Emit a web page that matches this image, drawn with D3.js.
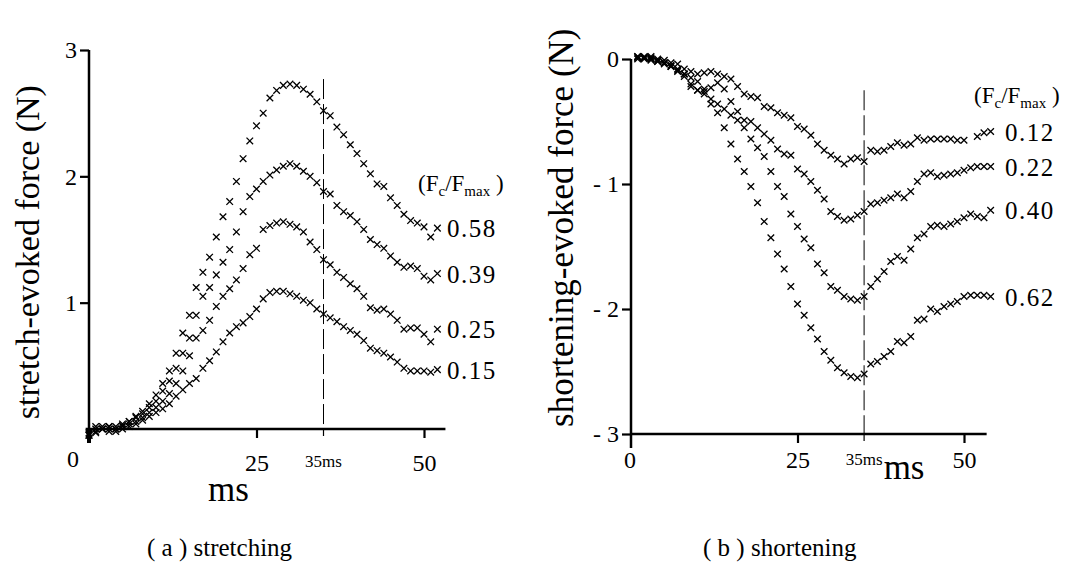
<!DOCTYPE html>
<html>
<head>
<meta charset="utf-8">
<script src="https://cdn.jsdelivr.net/npm/d3@7"></script>
<style>
body { margin: 0; background: #fff; }
text { font-family: "Liberation Serif", "Times New Roman", serif; fill: #000; }
</style>
</head>
<body>
<script>

// (a) stretching : time in ms and force in N
var msA = [0,1,2,3,4,5,6,7,8,9,10,11,12,13,14,15,16,17,18,19,20,21,22,23,24,25,26,
  27,28,29,30,31,32,33,34,35,36,37,38,39,40,41,42,43,44,45,46,47,48,49,50,51,52]

var stretch058 = [-0.05,-0.02,0.00,0.02,0.00,0.03,0.06,0.10,0.14,0.20,0.27,0.36,0.46,0.60,0.76,0.90,
  1.12,1.24,1.36,1.52,1.68,1.80,1.96,2.14,2.28,2.40,2.50,2.62,2.68,2.72,2.73,2.72,2.69,2.65,2.59,
  2.52,2.48,2.39,2.33,2.25,2.18,2.10,2.02,1.94,1.92,1.83,1.77,1.70,1.65,1.63,1.60,1.52,1.59]
var stretch039 = [-0.04,0.00,0.02,0.00,0.02,0.04,0.06,0.09,0.12,0.17,0.22,0.30,0.38,0.48,0.60,0.72,
  0.90,1.05,1.12,1.22,1.32,1.42,1.56,1.72,1.84,1.90,1.96,2.01,2.05,2.08,2.10,2.08,2.04,2.00,1.95,
  1.88,1.86,1.77,1.72,1.69,1.64,1.58,1.50,1.46,1.43,1.37,1.32,1.28,1.29,1.27,1.21,1.18,1.23]
var stretch025 = [-0.03,0.02,0.00,-0.02,0.00,0.02,0.04,0.06,0.09,0.13,0.17,0.22,0.28,0.36,0.46,0.58,
  0.72,0.78,0.86,0.97,1.05,1.11,1.18,1.27,1.38,1.43,1.58,1.61,1.63,1.64,1.62,1.60,1.56,1.48,1.42,
  1.34,1.30,1.24,1.20,1.15,1.11,1.05,0.96,0.94,0.95,0.91,0.86,0.79,0.80,0.80,0.75,0.69,0.79]
var stretch015 = [-0.05,-0.03,0.00,0.02,-0.02,0.00,0.02,0.04,0.07,0.10,0.13,0.16,0.20,0.26,0.31,0.36,
  0.40,0.48,0.54,0.61,0.69,0.76,0.81,0.84,0.89,0.95,1.03,1.08,1.09,1.09,1.07,1.05,1.02,1.00,0.95,
  0.91,0.88,0.85,0.81,0.78,0.75,0.70,0.64,0.62,0.60,0.57,0.53,0.48,0.46,0.46,0.46,0.45,0.47]
var labelsA = ["0.58", "0.39", "0.25", "0.15"]

// (b) shortening
var msB = [1,2,3,4,5,6,7,8,9,10,11,12,13,14,15,16,17,18,19,20,21,22,23,24,25,26,27,
  28,29,30,31,32,33,34,35,36,37,38,39,40,41,42,43,44,45,46,47,48,49,50,51,52,53,54]

var short012 = [0.02,0.01,0.02,0.00,-0.01,-0.03,-0.04,-0.08,-0.10,-0.12,-0.11,-0.10,-0.12,-0.14,
  -0.16,-0.22,-0.28,-0.30,-0.31,-0.38,-0.39,-0.43,-0.45,-0.47,-0.54,-0.56,-0.61,-0.68,-0.73,-0.77,
  -0.80,-0.84,-0.80,-0.79,-0.82,-0.73,-0.74,-0.73,-0.70,-0.67,-0.69,-0.68,-0.63,-0.65,-0.64,-0.64,
  -0.64,-0.64,-0.65,-0.65,null,-0.62,-0.59,-0.58]
var short022 = [0.02,0.00,0.01,-0.01,-0.03,-0.05,-0.08,-0.14,-0.22,-0.25,-0.26,-0.23,-0.19,-0.24,
  -0.34,-0.42,-0.49,-0.50,-0.55,-0.60,-0.65,-0.72,-0.76,-0.77,-0.88,-0.92,-0.98,-1.05,-1.12,-1.22,
  -1.26,-1.29,-1.28,-1.25,-1.22,-1.16,-1.15,-1.13,-1.11,-1.08,-1.11,-1.06,-0.98,-0.92,-0.91,-0.94,
  -0.93,-0.92,-0.91,-0.89,-0.87,-0.86,-0.86,-0.86]
var short040 = [0.01,0.02,0.00,-0.02,-0.03,-0.06,-0.10,-0.12,-0.15,-0.18,-0.24,-0.32,-0.36,-0.40,
  -0.45,-0.49,-0.55,-0.64,-0.71,-0.78,-0.90,-1.02,-1.10,-1.24,-1.34,-1.44,-1.51,-1.64,-1.71,-1.82,
  -1.85,-1.90,-1.92,-1.93,-1.90,-1.82,-1.76,-1.70,-1.62,-1.58,-1.61,-1.52,-1.43,-1.40,-1.34,-1.33,
  -1.34,-1.32,-1.30,-1.27,-1.24,-1.26,-1.27,-1.21]
var short062 = [0.00,0.01,-0.01,-0.02,-0.04,-0.06,-0.09,-0.12,-0.20,-0.25,-0.28,-0.36,-0.43,-0.55,
  -0.68,-0.80,-0.90,-1.02,-1.15,-1.30,-1.43,-1.56,-1.68,-1.82,-1.96,-2.05,-2.15,-2.24,-2.34,-2.41,
  -2.47,-2.51,-2.54,-2.55,-2.52,-2.44,-2.42,-2.38,-2.34,-2.26,-2.27,-2.22,-2.09,-2.08,-2.00,-2.02,
  -1.98,-1.96,-1.94,-1.90,-1.89,-1.89,-1.89,-1.90]
var labelsB = ["0.12", "0.22", "0.40", "0.62"]

var svg = d3.select("body").append("svg")
  .attr('width', 1083)
  .attr('height', 570)
  .style('background', '#fff')

var cross = "M-3.3,-3.3L3.3,3.3M-3.3,3.3L3.3,-3.3"

function drawPoints(g, ms, values, x, y) {
  var pts = ms.map(function(t, i) { return [t, values[i]] })
    .filter(function(d) { return d[1] !== null })
  g.append('g').selectAll('path')
    .data(pts)
    .enter().append('path')
    .attr('d', cross)
    .attr('transform', function(d) { return 'translate(' + x(d[0]) + ',' + y(d[1]) + ')' })
    .attr('stroke', '#000')
    .attr('stroke-width', 1.3)
    .attr('fill', 'none')
}

function styleAxis(g) {
  g.selectAll('.tick line').attr('stroke', '#000').attr('stroke-width', 2.2)
  g.selectAll('.tick text').style('font-family', '"Liberation Serif", serif').style('font-size', '24px')
  g.select('.domain').remove()
}

function legendTitle(g, x, y) {
  var t = g.append('text').attr('x', x).attr('y', y).style('font-size', '23px')
  t.append('tspan').text('(F')
  t.append('tspan').text('c').attr('dy', 5).style('font-size', '15px')
  t.append('tspan').text('/F').attr('dy', -5)
  t.append('tspan').text('max').attr('dy', 5).style('font-size', '15px')
  t.append('tspan').text(' )').attr('dy', -5)
}

// ---------- panel (a) ----------
var xA = d3.scaleLinear().domain([0, 50]).range([89, 424])
var yA = d3.scaleLinear().domain([0, 3]).range([429, 50])
var gA = svg.append('g')

gA.append('line')
  .attr('x1', xA(35)).attr('x2', xA(35))
  .attr('y1', yA(2.77)).attr('y2', yA(0))
  .attr('stroke', '#000').attr('stroke-width', 1)
  .attr('stroke-dasharray', '20,5')

gA.append('g')
  .attr('transform', 'translate(' + xA(0) + ',0)')
  .call(d3.axisLeft(yA).tickValues([1, 2, 3]).tickSize(9).tickPadding(3).tickFormat(d3.format('d')))
  .call(styleAxis)
gA.append('line')
  .attr('x1', xA(0)).attr('x2', xA(0)).attr('y1', yA(3)).attr('y2', yA(0) + 14)
  .attr('stroke', '#000').attr('stroke-width', 2.5)
gA.append('line')
  .attr('x1', xA(0)).attr('x2', xA(0)).attr('y1', yA(0)).attr('y2', yA(0) + 14)
  .attr('stroke', '#000').attr('stroke-width', 4)

gA.append('g')
  .attr('transform', 'translate(0,' + yA(0) + ')')
  .call(d3.axisBottom(xA).tickValues([25, 50]).tickSize(9).tickPadding(16))
  .call(styleAxis)
gA.append('line')
  .attr('x1', xA(-0.5)).attr('x2', xA(53.2)).attr('y1', yA(0)).attr('y2', yA(0))
  .attr('stroke', '#000').attr('stroke-width', 2.5)
gA.append('line')
  .attr('x1', xA(35)).attr('x2', xA(35)).attr('y1', yA(0)).attr('y2', yA(0) + 7)
  .attr('stroke', '#000').attr('stroke-width', 1.2)
gA.append('text').attr('x', xA(35)).attr('y', yA(0) + 38)
  .attr('text-anchor', 'middle').style('font-size', '17px').text('35ms')
gA.append('text').attr('x', xA(0) - 16).attr('y', yA(0) + 38)
  .attr('text-anchor', 'middle').style('font-size', '24px').text('0')

var seriesA = [stretch058, stretch039, stretch025, stretch015]
seriesA.forEach(function(s) { drawPoints(gA, msA, s, xA, yA) })

legendTitle(gA, 418, 191)
gA.selectAll('.lab')
  .data(labelsA)
  .enter().append('text')
  .attr('class', 'lab')
  .attr('x', 447)
  .attr('y', function(d, i) { return yA(seriesA[i][seriesA[i].length - 1]) + 9 })
  .style('font-size', '25px')
  .style('letter-spacing', '1.5px')
  .text(function(d) { return d })

gA.append('text')
  .attr('transform', 'translate(39,' + yA(1.4) + ') rotate(-90)')
  .attr('text-anchor', 'middle')
  .style('font-size', '34px')
  .text('stretch-evoked force (N)')

gA.append('text').attr('x', xA(20.8)).attr('y', 501)
  .attr('text-anchor', 'middle').style('font-size', '35px').text('ms')
gA.append('text').attr('x', 147).attr('y', 556)
  .style('font-size', '25px').text('( a ) stretching')

// ---------- panel (b) ----------
var xB = d3.scaleLinear().domain([0, 50]).range([631, 964])
var yB = d3.scaleLinear().domain([-3, 0]).range([434, 59])
var gB = svg.append('g')

gB.append('line')
  .attr('x1', xB(35)).attr('x2', xB(35))
  .attr('y1', yB(-0.25)).attr('y2', yB(-3))
  .attr('stroke', '#000').attr('stroke-width', 1)
  .attr('stroke-dasharray', '20,5')

gB.append('g')
  .attr('transform', 'translate(' + xB(0) + ',0)')
  .call(d3.axisLeft(yB).tickValues([0, -1, -2, -3]).tickSize(9).tickPadding(3)
    .tickFormat(function(d) { return d === 0 ? '0' : '- ' + Math.abs(d) }))
  .call(styleAxis)
gB.append('line')
  .attr('x1', xB(0)).attr('x2', xB(0)).attr('y1', yB(0)).attr('y2', yB(-3) + 14)
  .attr('stroke', '#000').attr('stroke-width', 2.5)

gB.append('g')
  .attr('transform', 'translate(0,' + yB(-3) + ')')
  .call(d3.axisBottom(xB).tickValues([25, 50]).tickSize(9).tickPadding(8))
  .call(styleAxis)
gB.append('line')
  .attr('x1', xB(0)).attr('x2', xB(53.4)).attr('y1', yB(-3)).attr('y2', yB(-3))
  .attr('stroke', '#000').attr('stroke-width', 2.5)
gB.append('line')
  .attr('x1', xB(35)).attr('x2', xB(35)).attr('y1', yB(-3)).attr('y2', yB(-3) + 7)
  .attr('stroke', '#000').attr('stroke-width', 1.2)
gB.append('text').attr('x', xB(35)).attr('y', yB(-3) + 31)
  .attr('text-anchor', 'middle').style('font-size', '17px').text('35ms')
gB.append('text').attr('x', xB(0) - 1).attr('y', yB(-3) + 34)
  .attr('text-anchor', 'middle').style('font-size', '24px').text('0')

var seriesB = [short012, short022, short040, short062]
seriesB.forEach(function(s) { drawPoints(gB, msB, s, xB, yB) })

legendTitle(gB, 974, 103)
gB.selectAll('.lab')
  .data(labelsB)
  .enter().append('text')
  .attr('class', 'lab')
  .attr('x', 1005)
  .attr('y', function(d, i) { return yB(seriesB[i][seriesB[i].length - 1]) + 9 })
  .style('font-size', '25px')
  .style('letter-spacing', '1.5px')
  .text(function(d) { return d })

gB.append('text')
  .attr('transform', 'translate(573,' + yB(-1.35) + ') rotate(-90)')
  .attr('text-anchor', 'middle')
  .style('font-size', '35px')
  .text('shortening-evoked force (N)')

gB.append('text').attr('x', xB(41)).attr('y', 479)
  .attr('text-anchor', 'middle').style('font-size', '35px').text('ms')
gB.append('text').attr('x', 703).attr('y', 556)
  .style('font-size', '25px').text('( b ) shortening')

</script>
</body>
</html>
